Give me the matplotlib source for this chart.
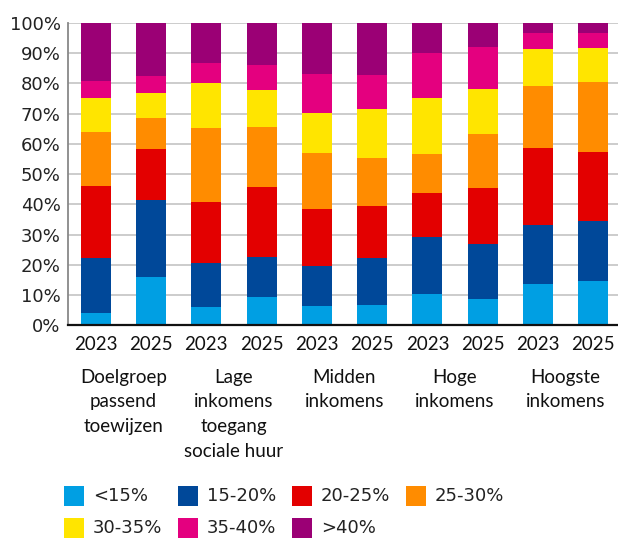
import numpy as np
import matplotlib
matplotlib.use('Agg')
import matplotlib.pyplot as plt
from matplotlib.patches import Rectangle

years = ['2023', '2025'] * 5
groups = ['Doelgroep\npassend\ntoewijzen', 'Lage\ninkomens\ntoegang\nsociale huur',
          'Midden\ninkomens', 'Hoge\ninkomens', 'Hoogste\ninkomens']
categories = ['<15%', '15-20%', '20-25%', '25-30%', '30-35%', '35-40%', '>40%']

# share per category (percent), one value per bar
lt15 = [4.2, 16.1, 6.2, 9.2, 6.5, 6.8, 10.5, 8.8, 13.7, 14.7]
c15_20 = [17.9, 25.5, 14.3, 13.5, 13.2, 15.6, 18.7, 18.2, 19.5, 19.7]
c20_25 = [24.0, 16.7, 20.4, 23.2, 18.8, 17.2, 14.7, 18.5, 25.6, 23.0]
c25_30 = [17.8, 10.3, 24.5, 19.8, 18.5, 15.9, 12.9, 17.9, 20.5, 23.2]
c30_35 = [11.4, 8.4, 14.9, 12.1, 13.2, 16.2, 18.5, 14.9, 12.2, 11.2]
c35_40 = [5.6, 5.6, 6.5, 8.4, 13.0, 11.2, 14.9, 13.8, 5.3, 5.0]
gt40 = [19.1, 17.4, 13.2, 13.8, 16.8, 17.1, 9.8, 7.9, 3.2, 3.2]

series = [lt15, c15_20, c20_25, c25_30, c30_35, c35_40, gt40]
colors = ['#009fe3', '#004899', '#e30000', '#ff8c00', '#ffe500', '#e4007f', '#9b0075']

W, H = 618, 539
fig = plt.figure(figsize=(W / 100, H / 100), dpi=100)
ax = fig.add_axes([0.1095, 0.3965, 0.8905, 0.5608])

x = np.arange(len(years))
bottom = np.zeros(len(years))
for vals, col in zip(series, colors):
    ax.bar(x, vals, width=0.54, bottom=bottom, color=col, zorder=3)
    bottom += np.array(vals)

ax.set_ylim(0, 100)
ax.set_xlim(-0.51, 9.45)
ax.set_yticks(range(0, 101, 10))
ax.set_yticklabels([f'{v}%' for v in range(0, 101, 10)], fontsize=13,
                   family='DejaVu Sans', color='#222222')
ax.yaxis.grid(True, color='#c8c8c8', linewidth=1.3, zorder=0)
ax.tick_params(axis='y', length=0, pad=5)
ax.tick_params(axis='x', length=0, pad=8)
ax.set_xticks(x)
ax.set_xticklabels(years, fontsize=13.5, family='Lato', color='#111111')

for s in ['top', 'right']:
    ax.spines[s].set_visible(False)
ax.spines['left'].set_color('#888888')
ax.spines['left'].set_linewidth(1.3)
ax.spines['bottom'].set_color('#111111')
ax.spines['bottom'].set_linewidth(1.6)
ax.spines['bottom'].set_zorder(4)

# group labels below the years
for i, g in enumerate(groups):
    ax.text(2 * i + 0.5, -14.3, g, ha='center', va='top', fontsize=13.5,
            family='Lato', color='#111111', linespacing=1.55)

# legend, 4 per row, laid out by hand to match spacing
for k, (lab, col) in enumerate(zip(categories, colors)):
    r, c = divmod(k, 4)
    x0 = 64 + 114 * c
    y0 = 486 + 32 * r
    fig.patches.append(Rectangle((x0 / W, 1 - (y0 + 20) / H), 20 / W, 20 / H,
                                 transform=fig.transFigure, facecolor=col,
                                 edgecolor='none'))
    fig.text((x0 + 29) / W, 1 - (y0 + 10) / H, lab, ha='left', va='center',
             fontsize=13, family='DejaVu Sans', color='#222222')

fig.savefig('out.png', dpi=100)
